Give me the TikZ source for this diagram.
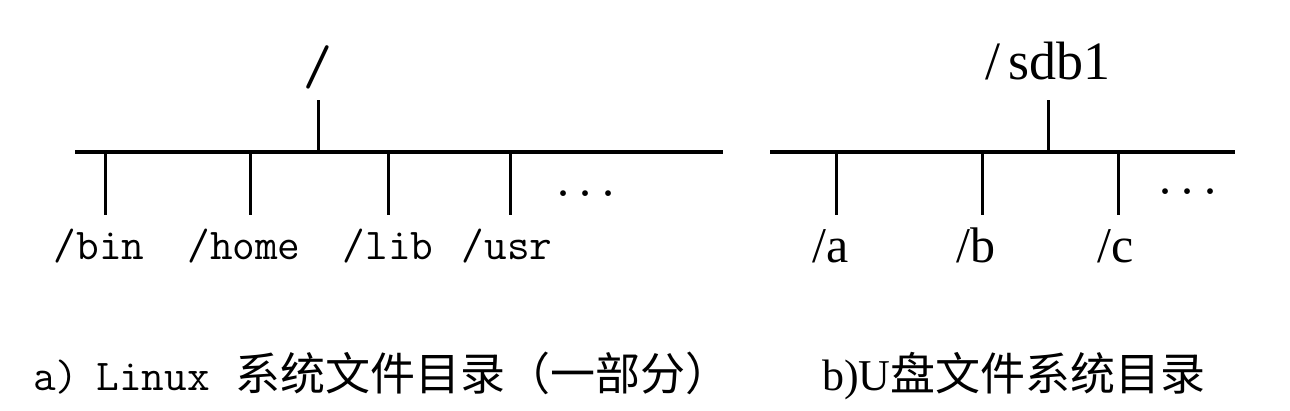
\documentclass[tikz,border=0pt]{standalone}
\usepackage{fontspec}
\setmainfont{Liberation Serif}
\newfontfamily\cjk{Noto Sans CJK SC}
\begin{document}
\begin{tikzpicture}[x=1pt,y=-1pt,
  edge/.style={line width=3pt},
  bus/.style={line width=3.5pt},
  monolbl/.style={font=\fontsize{44}{48}\selectfont\ttfamily,inner sep=0pt,anchor=base},
  seriflbl/.style={font=\fontsize{50}{54}\selectfont,inner sep=0pt,anchor=base},
  dots/.style={font=\fontsize{42}{46}\selectfont\ttfamily\bfseries,inner sep=0pt,anchor=base},
  caption/.style={inner sep=0pt,anchor=base west}]
\useasboundingbox (0,0) rectangle (1290,410);
% ---------- left tree ----------
\node[font=\fontsize{56}{60}\selectfont\ttfamily,inner sep=0pt,anchor=base] (root) at (318,84) {/};
\coordinate (rootstem) at (318,100);
\coordinate (Lbus) at (318,152);
\coordinate (LbusW) at (75,152);
\coordinate (LbusE) at (723,152);
\draw[bus] (LbusW) -- (LbusE);
\draw[edge] (rootstem) -- (Lbus);
\foreach \n/\x/\lx/\t in {bin/105/99/{/bin}, home/250/244/{/home}, lib/388/388/{/lib}, usr/510/507/{/usr}}{
  \coordinate (\n top) at (\x,152);
  \coordinate (\n end) at (\x,215);
  \draw[edge] (\n top) -- (\n end);
  \node[monolbl] (\n) at (\lx,259) {\t};
}
\node[dots] (Ldots) at (586,196) {...};
% ---------- right tree ----------
\node[seriflbl,font=\fontsize{54}{58}\selectfont] (sdb) at (1048,79) {/\,sdb1};
\coordinate (sdbstem) at (1048,100);
\coordinate (Rbus) at (1048,152);
\coordinate (RbusW) at (770,152);
\coordinate (RbusE) at (1235,152);
\draw[bus] (RbusW) -- (RbusE);
\draw[edge] (sdbstem) -- (Rbus);
\foreach \n/\x/\lx/\t in {a/836/831/{/a}, b/982/976/{/b}, c/1118/1116/{/c}}{
  \coordinate (\n top) at (\x,152);
  \coordinate (\n end) at (\x,215);
  \draw[edge] (\n top) -- (\n end);
  \node[seriflbl] (\n) at (\lx,262) {\t};
}
\node[dots] (Rdots) at (1188,194) {...};
% ---------- captions ----------
\node[caption] (capa) at (33,390) {{\fontsize{44}{48}\selectfont\ttfamily a)\kern18pt Linux\kern26pt}{\cjk\fontsize{45}{48}\selectfont 系统文件目录（一部分）}};
\node[caption] (capb) at (822,390) {{\fontsize{44}{48}\selectfont b)U}{\cjk\fontsize{45}{50}\selectfont 盘文件系统目录}};
\end{tikzpicture}
\end{document}
